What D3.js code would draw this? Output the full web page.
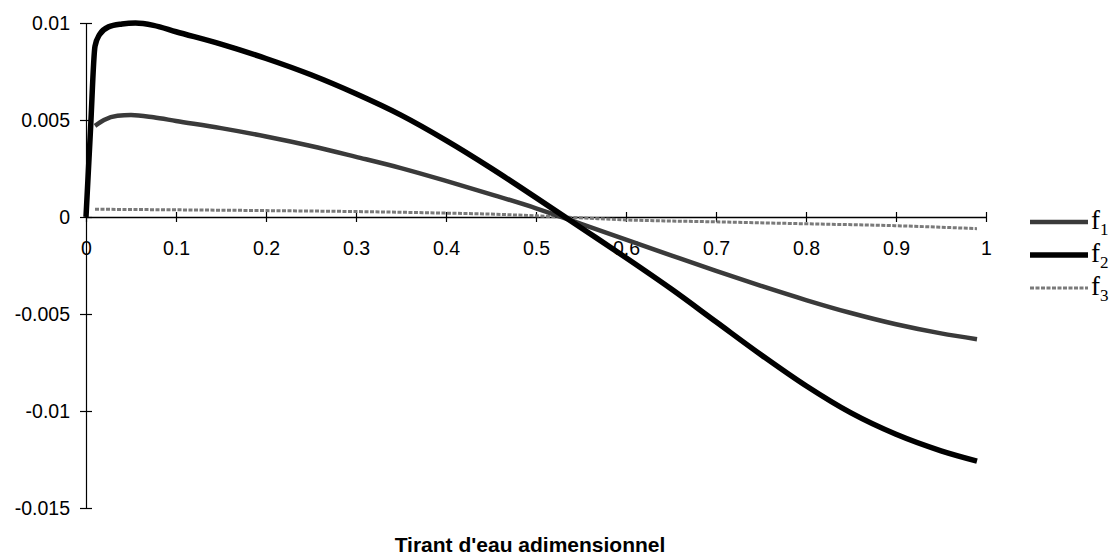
<!DOCTYPE html>
<html><head><meta charset="utf-8">
<script src="https://cdn.jsdelivr.net/npm/d3@7"></script>
<style>
html,body{margin:0;padding:0;background:#fff;}
svg{display:block;}
</style></head>
<body>
<svg id="chart" width="1116" height="557"></svg>
<script>
// ---- data ----
const xs_f2 = [0, 0.005, 0.01, 0.015, 0.025, 0.04, 0.055, 0.075, 0.1, 0.15, 0.2, 0.25, 0.3, 0.35, 0.4, 0.45, 0.5, 0.55, 0.6, 0.65, 0.7, 0.75, 0.8, 0.85, 0.9, 0.95, 0.99];
const f2 = [0, 0.0045, 0.0088, 0.0094, 0.0098, 0.00995, 0.0100, 0.00988, 0.00955, 0.00891, 0.00817, 0.00733, 0.00635, 0.00525, 0.00395, 0.00252, 0.0010, -0.00055, -0.0021, -0.0037, -0.0054, -0.0071, -0.0087, -0.0101, -0.0112, -0.01205, -0.01258];
const xs_f1 = [0.01, 0.02, 0.035, 0.05, 0.075, 0.1, 0.15, 0.2, 0.25, 0.3, 0.35, 0.4, 0.45, 0.5, 0.55, 0.6, 0.65, 0.7, 0.75, 0.8, 0.85, 0.9, 0.95, 0.99];
const f1 = [0.0047, 0.0050, 0.00522, 0.00526, 0.00514, 0.00495, 0.00458, 0.00415, 0.00366, 0.0031, 0.00252, 0.00186, 0.00117, 0.00045, -0.00035, -0.00117, -0.00198, -0.00278, -0.00355, -0.00428, -0.00495, -0.00553, -0.0060, -0.0063];
const xs_f3 = [0.01, 0.1, 0.2, 0.3, 0.4, 0.45, 0.5, 0.53, 0.6, 0.7, 0.8, 0.9, 0.99];
const f3 = [0.0004, 0.00037, 0.00033, 0.00028, 0.0002, 0.00015, 0.00006, 0.0, -0.00015, -0.00025, -0.00035, -0.00045, -0.0006];
const xTicks = [0, 0.1, 0.2, 0.3, 0.4, 0.5, 0.6, 0.7, 0.8, 0.9, 1];
const xTickLabels = ["0", "0.1", "0.2", "0.3", "0.4", "0.5", "0.6", "0.7", "0.8", "0.9", "1"];
const yTicks = [0.01, 0.005, 0, -0.005, -0.01, -0.015];
const yTickLabels = ["0.01", "0.005", "0", "-0.005", "-0.01", "-0.015"];
const seriesNames = ["f1", "f2", "f3"];
const xTitle = "Tirant d'eau adimensionnel";

// ---- layout ----
const svg = d3.select("#chart");
const x = d3.scaleLinear().domain([0, 1]).range([86, 986]);
const y = d3.scaleLinear().domain([-0.015, 0.01]).range([508, 23]);
const FONT = "'Liberation Sans', Arial, sans-serif";

// x axis at y=0
const xAxis = svg.append("g").attr("transform", `translate(0,${y(0)})`)
  .call(d3.axisBottom(x).tickValues(xTicks).tickFormat((d, i) => xTickLabels[i]).tickSizeOuter(0));
xAxis.select(".domain").attr("stroke", "#000").attr("stroke-width", 1.3);
xAxis.selectAll(".tick line").attr("y1", -5).attr("y2", 5).attr("stroke", "#000").attr("stroke-width", 1.2);
xAxis.selectAll(".tick text").attr("y", 38).attr("dy", 0)
  .attr("font-family", FONT).attr("font-size", 19.5).attr("fill", "#000");

// y axis
const yAxis = svg.append("g").attr("transform", `translate(${x(0)},0)`)
  .call(d3.axisLeft(y).tickValues(yTicks).tickFormat((d, i) => yTickLabels[i]).tickSizeOuter(0));
yAxis.select(".domain").attr("stroke", "#000").attr("stroke-width", 1.2);
yAxis.selectAll(".tick line").attr("x1", -6).attr("x2", 6).attr("stroke", "#000").attr("stroke-width", 1.2);
yAxis.selectAll(".tick text").attr("x", -16).attr("dy", "0.35em")
  .attr("font-family", FONT).attr("font-size", 19.5).attr("fill", "#000");

// axis title
svg.append("text").attr("x", 530).attr("y", 552).attr("text-anchor", "middle")
  .attr("font-family", FONT).attr("font-size", 21).attr("font-weight", "bold").attr("fill", "#000")
  .text(xTitle);

// ---- series ----
const line = d3.line().x(d => x(d[0])).y(d => y(d[1])).curve(d3.curveMonotoneX);
const styles = {
  f1: {stroke: "#3a3a3a", width: 4.5, dash: null},
  f2: {stroke: "#000", width: 5.5, dash: null},
  f3: {stroke: "#7a7a7a", width: 3, dash: "4,1.5"}
};
const seriesData = {
  f1: d3.zip(xs_f1, f1),
  f2: d3.zip(xs_f2, f2),
  f3: d3.zip(xs_f3, f3)
};
["f3", "f1", "f2"].forEach(k => {
  svg.append("path").datum(seriesData[k]).attr("d", line)
    .attr("fill", "none").attr("stroke", styles[k].stroke)
    .attr("stroke-width", styles[k].width).attr("stroke-dasharray", styles[k].dash)
    .attr("stroke-linejoin", "round").attr("stroke-linecap", "butt");
});

// ---- legend ----
const legendY = [222, 255, 288];
seriesNames.forEach((k, i) => {
  const g = svg.append("g");
  g.append("line").attr("x1", 1030).attr("x2", 1088).attr("y1", legendY[i]).attr("y2", legendY[i])
    .attr("stroke", styles[k].stroke).attr("stroke-width", styles[k].width)
    .attr("stroke-dasharray", styles[k].dash);
  const t = g.append("text").attr("x", 1091).attr("y", legendY[i] + 7)
    .attr("font-family", "'Liberation Serif', 'Times New Roman', serif").attr("font-size", 27).attr("fill", "#000");
  t.append("tspan").text("f");
  t.append("tspan").attr("font-size", 17).attr("dy", 6).text(String(i + 1));
});
</script>
</body></html>
